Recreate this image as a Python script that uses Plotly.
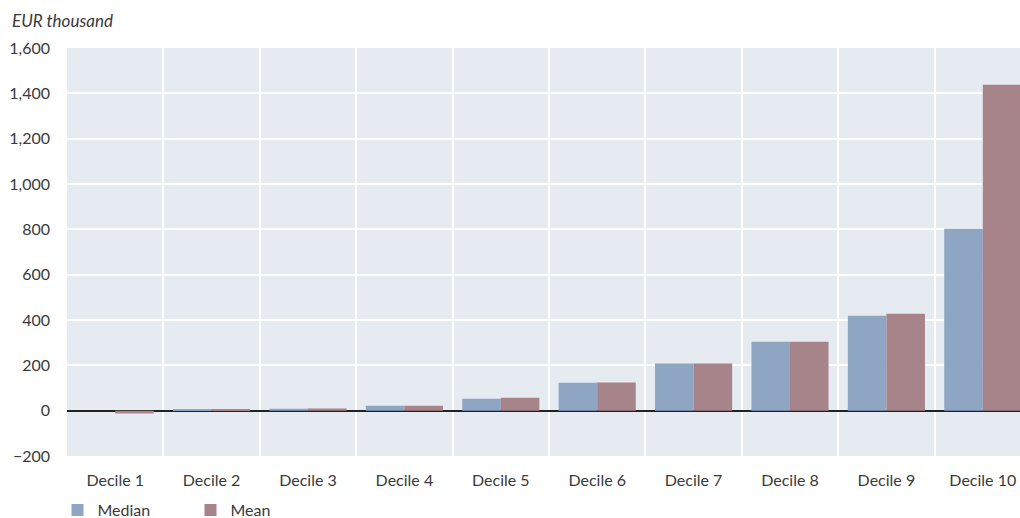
import plotly.graph_objects as go

categories = ["Decile 1", "Decile 2", "Decile 3", "Decile 4", "Decile 5",
              "Decile 6", "Decile 7", "Decile 8", "Decile 9", "Decile 10"]
median_vals = [0, 4, 9, 22, 53, 123, 208, 304, 419, 803]
mean_vals = [-12, 4, 10, 22, 57, 124, 208, 304, 428, 1438]
y_ticks = [-200, 0, 200, 400, 600, 800, 1000, 1200, 1400, 1600]

MEDIAN_COLOR = "#8FA5C4"
MEAN_COLOR = "#A7838A"
FONT = "Lato"
TXT = "#3a3a3a"

W, H = 1020, 518
L, T, B = 67, 48, 62
PW, PH = W - L, H - T - B

fig = go.Figure()
fig.add_trace(go.Bar(name="Median", x=categories, y=median_vals,
                     marker=dict(color=MEDIAN_COLOR, line=dict(width=0))))
fig.add_trace(go.Bar(name="Mean", x=categories, y=mean_vals,
                     marker=dict(color=MEAN_COLOR, line=dict(width=0))))

fig.update_layout(
    width=W, height=H,
    margin=dict(l=L, r=0, t=T, b=B, autoexpand=False),
    paper_bgcolor="white",
    plot_bgcolor="#E6EAF1",
    barmode="group", bargap=0.2, bargroupgap=0,
    font=dict(family=FONT, size=16, color=TXT),
    showlegend=True,
    legend=dict(orientation="h", x=(57.5 - L) / PW, xanchor="left",
                y=(H - B - 510) / PH, yanchor="middle",
                font=dict(size=16, color=TXT), bgcolor="rgba(0,0,0,0)",
                itemwidth=30, entrywidth=88, tracegroupgap=0),
    annotations=[dict(text="<i>EUR thousand</i>", xref="paper", yref="paper",
                      x=(10 - L) / PW, y=(H - B - 20) / PH, xanchor="left", yanchor="middle",
                      showarrow=False, font=dict(size=17, color=TXT, family=FONT))],
)
fig.update_xaxes(
    type="category", range=[-0.5, 9.386], automargin=False,
    tickson="boundaries", showgrid=True, gridcolor="white", gridwidth=2,
    ticks="", tickfont=dict(size=16, color=TXT), showline=False,
    ticklabelstandoff=13,
)
fig.update_yaxes(
    range=[-200, 1600], tickvals=y_ticks, tickformat=",", automargin=False,
    showgrid=True, gridcolor="white", gridwidth=2,
    zeroline=True, zerolinecolor="#222222", zerolinewidth=1.5,
    tickfont=dict(size=16, color=TXT), ticks="", ticklabelstandoff=16,
)

fig.write_html("out.html", config={"displayModeBar": False},
               post_script="document.body.style.margin='0';")
